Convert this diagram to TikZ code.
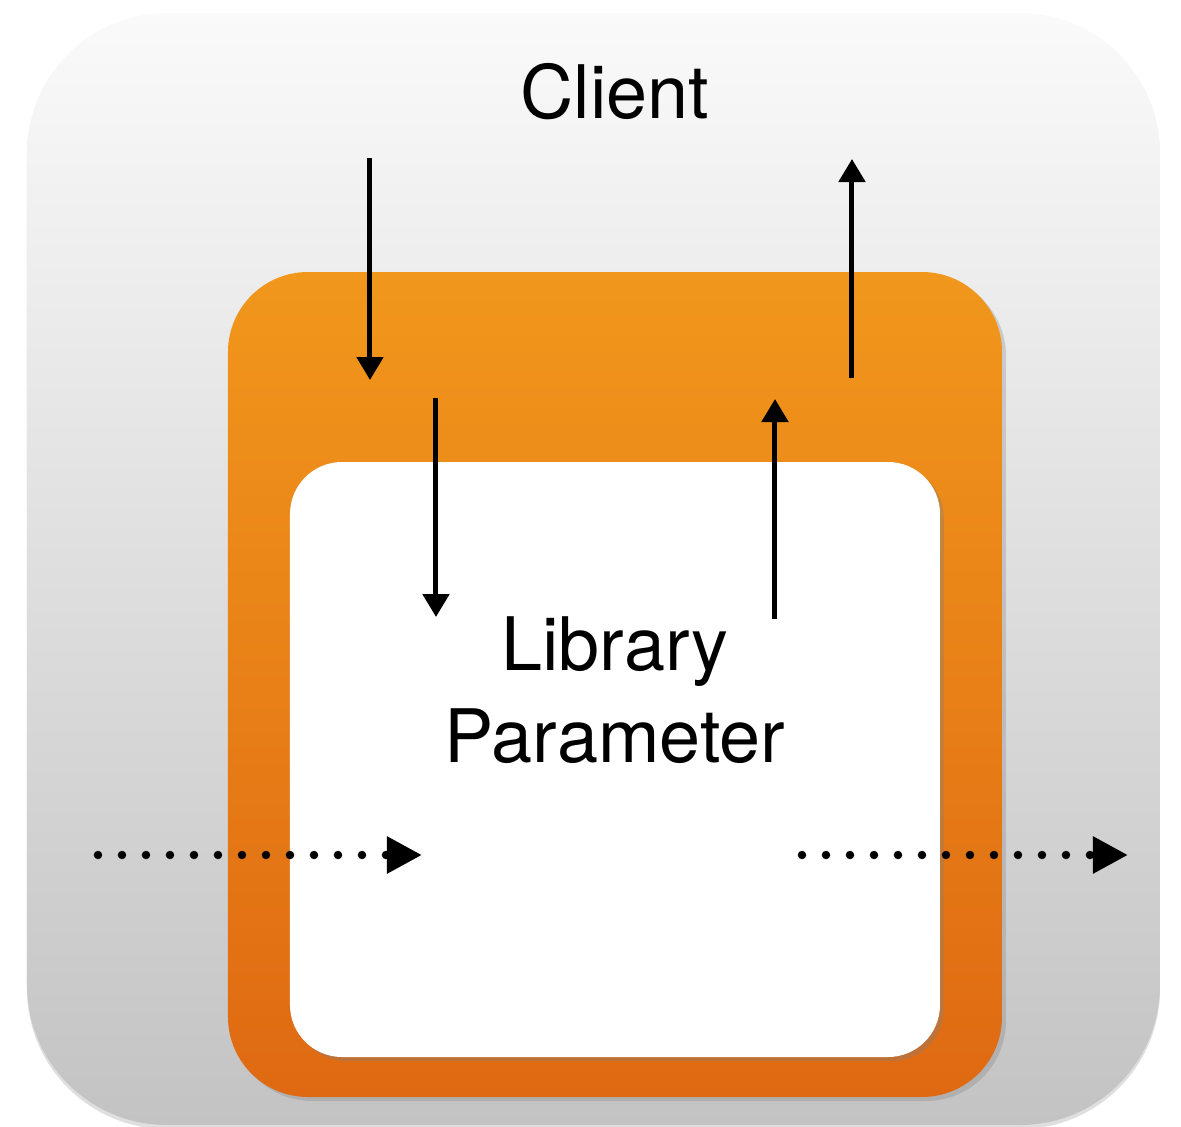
\documentclass[tikz,border=0pt]{standalone}
\usepackage{fontspec}
\setmainfont{TeX Gyre Heros}
\usetikzlibrary{arrows.meta, shadows}

\definecolor{greytop}{RGB}{250,250,250}
\definecolor{greybot}{RGB}{195,195,195}
\definecolor{orangetop}{RGB}{241,151,28}
\definecolor{orangebot}{RGB}{223,105,18}

\tikzset{
	solidarrow/.style={-{Triangle[width=2.6mm,length=2.3mm]}, line width=0.5mm},
	dotarrow/.style={-{Triangle[width=3.5mm,length=3.5mm]}, line width=0.85mm, line cap=round, dash pattern=on 0pt off 2.4mm},
	label/.style={font=\fontsize{21}{26}\selectfont, align=center, inner sep=0pt}
}

\begin{document}
\begin{tikzpicture}[x=0.1mm,y=-0.1mm]
	\useasboundingbox (0,0) rectangle (1181,1127);
	
	%outer box - client
	\shade[top color=greytop, bottom color=greybot, rounded corners=14mm,
		drop shadow={opacity=0.25, shadow xshift=0mm, shadow yshift=-0.4mm}] (27,13) rectangle (1160,1125);
	
	%middle box - orange
	\shade[top color=orangetop, bottom color=orangebot, rounded corners=8mm,
		drop shadow={opacity=0.3, shadow xshift=0.4mm, shadow yshift=-0.4mm}] (228,272) rectangle (1002,1097);
	
	%inner box - white
	\fill[white, rounded corners=5.2mm,
		drop shadow={opacity=0.35, shadow xshift=0.4mm, shadow yshift=-0.4mm}] (290,462) rectangle (940,1057);
	
	%labels
	\node[label] (client)  at (615,92)  {Client};
	\node[label] (library) at (615,690) {Library\\Parameter};
	
	%end points
	\coordinate (downAs) at (370,158);
	\coordinate (downAe) at (370,380);
	\coordinate (downBs) at (436,398);
	\coordinate (downBe) at (436,617);
	\coordinate (upAs)   at (775,619);
	\coordinate (upAe)   at (775,399);
	\coordinate (upBs)   at (852,378);
	\coordinate (upBe)   at (852,159);
	\coordinate (leftS)  at (98,855);
	\coordinate (leftE)  at (422,855);
	\coordinate (rightS) at (802,855);
	\coordinate (rightE) at (1128,855);
	
	%arrows - vertical
	\draw[solidarrow] (downAs)--(downAe);
	\draw[solidarrow] (downBs)--(downBe);
	\draw[solidarrow] (upAs)--(upAe);
	\draw[solidarrow] (upBs)--(upBe);
	
	%arrows - dotted
	\draw[dotarrow] (leftS)--(leftE);
	\draw[dotarrow] (rightS)--(rightE);
\end{tikzpicture}
\end{document}
